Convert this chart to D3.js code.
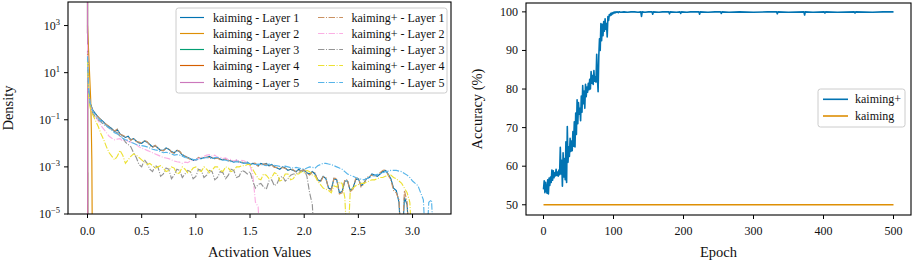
<!DOCTYPE html>
<html>
<head>
<meta charset="utf-8">
<style>
    body {
        margin: 0;
        background: #fff;
    }

    svg text { font-family: "Liberation Serif", "Times New Roman", serif; }
    .tick-label { font-size: 12px; fill: #111; }
    .axis-label { font-size: 14.5px; fill: #111; }
    .legend-text { font-size: 12px; fill: #111; }
</style>
</head>
<body>
<svg id="viz" width="913" height="262"></svg>

<script src="https://cdnjs.cloudflare.com/ajax/libs/d3/7.8.5/d3.min.js"></script>

<script>
    // ---- left panel: activation histograms (log10 of density, null = empty bin) ----
    // bins: 0, 0.01, then every 0.025 up to 3.2
    var activationBins = [0, 0.01].concat(d3.range(1, 129).map(function(k) { return +(k * 0.025).toFixed(3); }));

    var kaimingL1 = [1.9, 0.3,
        -0.3, -0.6, -0.75, -0.9, -1.0, -1.1, -1.22, -1.3, -1.38, -1.5, -1.42, -1.6, -1.68, -1.75, -1.7, -1.85, -1.8, -1.9, -1.98, -2.0,
        -1.9, -1.95, -2.05, -2.15, -2.1, -2.2, -2.3, -2.3, -2.2, -2.25, -2.35, -2.4, -2.3, -2.35, -2.5, -2.55, -2.6, -2.65, -2.72, -2.7,
        -2.62, -2.65, -2.6, -2.6, -2.55, -2.62, -2.65, -2.6, -2.68, -2.7, -2.65, -2.72, -2.75, -2.8, -2.72, -2.78, -2.82, -2.85, -2.8, -2.9,
        -2.85, -2.88, -2.95, -2.85, -2.9, -2.85, -2.95, -2.9, -3.0, -3.05, -3.1, -3.0, -3.05, -3.15, -3.1, -3.15, -3.2, -3.1, -3.2, -3.15,
        -3.25, -3.3, -3.2, -3.3, -3.55, -3.6, -3.4, -3.5, -3.9, -3.95, -3.5, -3.55, -4.1, -4.05, -3.6, -3.6, -4.0, -3.9, -3.55, -3.5,
        -3.8, -3.7, -3.5, -3.45, -3.3, -3.35, -3.4, -3.3, -3.2, -3.15, -3.3, -3.5, -3.9, -4.0, -4.5, null, -4.3, -4.6, null];

    var kaimingPlusL1 = [1.8, 0.25,
        -0.32, -0.62, -0.78, -0.88, -1.02, -1.12, -1.2, -1.28, -1.4, -1.48, -1.4, -1.62, -1.66, -1.72, -1.74, -1.88, -1.78, -1.92, -1.95, -1.98,
        -1.88, -1.92, -2.08, -2.18, -2.08, -2.2, -2.28, -2.32, -2.22, -2.22, -2.38, -2.42, -2.28, -2.33, -2.48, -2.52, -2.62, -2.68, -2.7, -2.72,
        -2.6, -2.62, -2.62, -2.58, -2.6, -2.6, -2.63, -2.62, -2.7, -2.68, -2.68, -2.75, -2.72, -2.78, -2.75, -2.8, -2.8, -2.83, -2.85, -2.92,
        -2.83, -2.85, -2.97, -2.88, -2.88, -2.88, -2.97, -2.92, -3.02, -3.02, -3.08, -3.02, -3.07, -3.12, -3.12, -3.12, -3.22, -3.12, -3.18, -3.13,
        -3.28, -3.35, -3.22, -3.25, -3.6, -3.65, -3.42, -3.45, -3.95, -4.0, -3.48, -3.5, -4.15, -4.1, -3.55, -3.55, -4.05, -3.95, -3.5, -3.45,
        -3.85, -3.75, -3.45, -3.4, -3.35, -3.38, -3.35, -3.25, -3.15, -3.12, -3.35, -3.55, -4.0, -4.1, -4.4, null, -4.0, -4.5, null];

    var kaimingPlusL2 = [2.2, 0.2,
        -0.4, -0.7, -0.88, -1.05, -1.25, -1.4, -1.55, -1.7, -1.78, -1.85, -1.82, -1.8, -1.9, -1.85, -1.92, -1.95, -2.0, -2.05, -2.15, -2.2,
        -2.25, -2.3, -2.35, -2.4, -2.45, -2.5, -2.55, -2.6, -2.62, -2.65, -2.7, -2.75, -2.78, -2.8, -2.85, -2.8, -2.82, -2.75, -2.72, -2.7,
        -2.65, -2.6, -2.55, -2.5, -2.48, -2.55, -2.5, -2.6, -2.58, -2.65, -2.62, -2.7, -2.68, -2.75, -2.7, -2.8, -2.72, -2.75, -2.85, -2.95,
        -3.3, -4.5, -4.7, null];

    var kaimingPlusL3 = [1.6, 0.2,
        -0.4, -0.75, -0.88, -1.0, -1.1, -1.2, -1.28, -1.35, -1.42, -1.5, -1.55, -1.7, -1.75, -1.95, -2.05, -2.15, -2.4, -2.6, -2.9, -3.0,
        -2.7, -2.85, -3.1, -3.2, -2.95, -3.0, -3.4, -3.3, -3.05, -3.1, -3.5, -3.35, -3.1, -3.15, -3.45, -3.3, -3.15, -3.2, -3.5, -3.4,
        -3.1, -3.15, -3.45, -3.35, -3.15, -3.2, -3.55, -3.45, -3.2, -3.25, -3.5, -3.35, -3.1, -3.15, -3.45, -3.4, -3.15, -3.2, -3.3, -3.2,
        -3.6, -3.9, -3.75, -3.7, -3.85, -3.95, -3.6, -3.55, -3.8, -3.7, -3.45, -3.4, -3.6, -3.5, -3.35, -3.3, -3.3, -3.25, -3.15, -3.1,
        -3.4, -4.1, -4.6, null];

    var kaimingPlusL4 = [1.5, 0.0,
        -0.5, -0.8, -1.05, -1.3, -1.6, -1.85, -2.15, -2.4, -2.55, -2.7, -2.55, -2.3, -2.5, -2.85, -2.7, -2.55, -2.45, -2.5, -2.6, -2.7,
        -2.8, -2.9, -2.85, -2.95, -3.05, -3.0, -2.95, -3.05, -3.2, -3.15, -3.0, -3.05, -3.3, -3.25, -3.0, -3.1, -3.25, -3.2, -3.05, -3.0,
        -3.15, -3.2, -3.0, -3.1, -3.25, -3.15, -3.0, -3.0, -3.15, -3.2, -3.0, -3.05, -3.2, -3.15, -3.0, -3.0, -2.95, -2.95, -2.9, -2.9,
        -3.1, -3.3, -3.5, -3.55, -3.3, -3.35, -3.5, -3.45, -3.25, -3.3, -3.6, -3.55, -3.3, -3.3, -3.55, -3.5, -3.3, -3.3, -3.2, -3.25,
        -3.15, -3.2, -3.35, -3.4, -3.6, -3.75, -3.9, -3.95, -4.0, -4.1, -3.8, -3.85, -3.65, -3.7, -4.3, null, -4.0, -3.9, -3.8, -3.75,
        -3.7, -3.7, -3.65, -3.6, -3.55, -3.55, -3.5, -3.45, -3.45, -3.4, -3.35, -3.35, -3.45, -3.5, -3.6, -3.7, -3.9, -4.1, -4.5, null];

    var kaimingPlusL5 = [1.7, 0.3,
        -0.3, -0.65, -0.8, -0.95, -1.05, -1.15, -1.25, -1.35, -1.45, -1.55, -1.6, -1.7, -1.78, -1.85, -1.88, -1.95, -2.0, -2.05, -2.08, -2.1,
        -2.12, -2.15, -2.2, -2.25, -2.28, -2.3, -2.35, -2.4, -2.38, -2.4, -2.45, -2.5, -2.48, -2.5, -2.55, -2.6, -2.62, -2.65, -2.68, -2.7,
        -2.68, -2.65, -2.62, -2.6, -2.63, -2.65, -2.6, -2.6, -2.65, -2.7, -2.72, -2.75, -2.78, -2.8, -2.78, -2.8, -2.82, -2.85, -2.83, -2.85,
        -2.88, -2.9, -2.88, -2.9, -2.92, -2.95, -2.88, -2.9, -2.93, -2.95, -2.98, -3.0, -2.97, -3.0, -3.03, -3.05, -3.02, -3.05, -3.08, -3.1,
        -3.05, -3.0, -3.02, -3.05, -2.95, -2.9, -2.85, -2.85, -2.88, -2.9, -2.95, -3.0, -3.05, -3.1, -3.2, -3.3, -3.35, -3.4, -3.45, -3.5,
        -3.52, -3.55, -3.5, -3.45, -3.4, -3.35, -3.32, -3.3, -3.25, -3.2, -3.18, -3.15, -3.15, -3.15, -3.18, -3.2, -3.28, -3.35, -3.45, -3.6,
        -3.7, -3.8, -4.1, -4.4, null, -4.5, -4.4, null];

    // the collapsed kaiming layers only live right at zero
    var kaimingL2Bins = [0, 0.03, 0.035, 0.04, 0.045];
    var kaimingL2 = [3.0, -0.2, -1.3, -2.7, null];
    var deadBins = [0, 0.002];
    var kaimingL3 = [5, null];
    var kaimingL4 = [5, null];
    var kaimingL5 = [5, null];

    var layerNames = ['Layer 1', 'Layer 2', 'Layer 3', 'Layer 4', 'Layer 5'];
    var kaimingColors = ['#0173b2', '#de8f05', '#029e73', '#d55e00', '#cc78bc'];
    var kaimingPlusColors = ['#ca9161', '#fbafe4', '#949494', '#ece133', '#56b4e9'];

    var densityTicks = [1e-5, 1e-3, 1e-1, 1e1, 1e3];
    var activationTicks = [0, 0.5, 1, 1.5, 2, 2.5, 3];

    // ---- right panel: accuracy per epoch ----
    var accEpochs = d3.range(0, 111).concat([115, 120, 125, 130, 135, 139, 140, 141, 145, 150,
        155, 156, 157, 165, 170, 179, 180, 181, 190, 195,
        196, 197, 205, 210, 222, 223, 224, 235, 245, 253,
        254, 255, 265, 280, 300, 320, 333, 334, 335, 350,
        372, 373, 374, 385, 401, 402, 403, 420, 444, 445,
        446, 470, 485, 500]);

    var kaimingPlusAcc = [
        54.0, 56.2, 53.1, 55.8, 54.0, 53.0, 56.5, 52.8, 56.9, 55.0,
        57.2, 55.8, 59.0, 56.4, 58.8, 57.0, 58.3, 57.5, 59.2, 57.6,
        58.5, 57.4, 59.0, 57.8, 64.9, 58.0, 61.5, 54.8, 63.5, 57.2,
        62.0, 56.5, 66.3, 55.8, 70.3, 61.0, 65.0, 62.5, 67.2, 63.8,
        66.5, 64.0, 69.0, 65.2, 71.5, 65.0, 73.8, 68.2, 77.2, 71.0,
        76.5, 73.5, 75.0, 71.8, 78.2, 74.0, 80.9, 76.2, 79.5, 75.0,
        81.2, 78.0, 80.5, 79.2, 81.5, 79.8, 82.5, 80.0, 84.5, 81.5,
        83.5, 81.2, 84.8, 82.0, 83.2, 81.8, 89.0, 83.0, 79.3, 88.5,
        93.0, 90.0, 97.0, 92.5, 96.8, 93.8, 97.5, 95.0, 98.2, 95.5,
        97.0, 93.5, 98.8, 97.8, 99.3, 99.0, 99.6, 99.2, 99.8, 99.5,
        99.9, 99.7, 100, 99.8, 100, 99.9, 100, 99.8, 100, 100,
        99.9,
        100, 99.9, 100, 100, 99.9, 100, 98.8, 100, 99.9, 100,
        100, 99.4, 100, 99.9, 100, 100, 99.5, 100, 99.9, 100,
        99.6, 100, 99.9, 100, 100, 99.4, 100, 99.9, 100, 100,
        99.6, 100, 99.9, 100, 99.9, 100, 100, 99.5, 100, 99.9,
        100, 99.2, 100, 99.9, 100, 99.7, 100, 99.9, 100, 99.7,
        100, 99.9, 100, 100];

    var kaimingEpochs = [0, 500];
    var kaimingAcc = [50, 50];

    var epochTicks = [0, 100, 200, 300, 400, 500];
    var accTicks = [50, 60, 70, 80, 90, 100];

    var svg = d3.select('#viz');

    // ================= left panel =================
    var L = { left: 68, right: 451, top: 2, bottom: 214 };
    var xAct = d3.scaleLinear().domain([-0.18, 3.355]).range([L.left, L.right]);
    var yDen = d3.scaleLog().domain([1e-5, 1e4]).range([L.bottom, L.top]);

    svg.append('clipPath').attr('id', 'clipL')
        .append('rect')
        .attr('x', L.left).attr('y', L.top)
        .attr('width', L.right - L.left).attr('height', L.bottom - L.top);

    function toPoints(bins, logs) {
        return logs.map(function(v, i) { return { x: bins[i], v: v }; });
    }

    var densityLine = d3.line()
        .x(function(d) { return xAct(d.x); })
        .y(function(d) { return d.v === null ? L.bottom + 40 : yDen(Math.pow(10, d.v)); });

    var kaimingSeries = [
        toPoints(activationBins, kaimingL1),
        toPoints(kaimingL2Bins, kaimingL2),
        toPoints(deadBins, kaimingL3),
        toPoints(deadBins, kaimingL4),
        toPoints(deadBins, kaimingL5)
    ];
    var kaimingPlusSeries = [
        toPoints(activationBins, kaimingPlusL1),
        toPoints(activationBins, kaimingPlusL2),
        toPoints(activationBins, kaimingPlusL3),
        toPoints(activationBins, kaimingPlusL4),
        toPoints(activationBins, kaimingPlusL5)
    ];

    var plotL = svg.append('g').attr('clip-path', 'url(#clipL)');

    kaimingSeries.forEach(function(s, i) {
        plotL.append('path')
            .attr('d', densityLine(s))
            .attr('fill', 'none')
            .attr('stroke', kaimingColors[i])
            .attr('stroke-width', 1.15);
    });
    kaimingPlusSeries.forEach(function(s, i) {
        plotL.append('path')
            .attr('d', densityLine(s))
            .attr('fill', 'none')
            .attr('stroke', kaimingPlusColors[i])
            .attr('stroke-width', 1.15)
            .attr('stroke-dasharray', '6.4,1.6,1,1.6');
    });

    // frame + ticks
    svg.append('rect')
        .attr('x', L.left).attr('y', L.top)
        .attr('width', L.right - L.left).attr('height', L.bottom - L.top)
        .attr('fill', 'none').attr('stroke', '#000').attr('stroke-width', 1.1);

    activationTicks.forEach(function(t) {
        var px = xAct(t);
        svg.append('line')
            .attr('x1', px).attr('x2', px)
            .attr('y1', L.bottom).attr('y2', L.bottom + 4)
            .attr('stroke', '#000').attr('stroke-width', 1);
        svg.append('text')
            .attr('class', 'tick-label')
            .attr('x', px).attr('y', L.bottom + 21)
            .attr('text-anchor', 'middle')
            .text(d3.format('.1f')(t));
    });

    densityTicks.forEach(function(t) {
        var py = yDen(t);
        svg.append('line')
            .attr('x1', L.left - 4).attr('x2', L.left)
            .attr('y1', py).attr('y2', py)
            .attr('stroke', '#000').attr('stroke-width', 1);
        var exp = Math.round(Math.log10(t));
        var txt = svg.append('text')
            .attr('class', 'tick-label')
            .attr('x', L.left - 8).attr('y', py + 4)
            .attr('text-anchor', 'end');
        txt.append('tspan').text('10');
        txt.append('tspan')
            .attr('dy', -5)
            .attr('font-size', '8.5px')
            .text(exp < 0 ? '\u2212' + (-exp) : exp);
    });

    svg.append('text')
        .attr('class', 'axis-label')
        .attr('x', (L.left + L.right) / 2).attr('y', 257)
        .attr('text-anchor', 'middle')
        .text('Activation Values');

    svg.append('text')
        .attr('class', 'axis-label')
        .attr('transform', 'translate(13,' + ((L.top + L.bottom) / 2) + ') rotate(-90)')
        .attr('text-anchor', 'middle')
        .text('Density');

    // legend, two columns
    var legL = svg.append('g');
    legL.append('rect')
        .attr('x', 176).attr('y', 8).attr('width', 271).attr('height', 85)
        .attr('rx', 2.5)
        .attr('fill', '#fff').attr('fill-opacity', 0.8)
        .attr('stroke', '#ccc').attr('stroke-width', 1);

    layerNames.forEach(function(name, i) {
        var ry = Math.round(16.7 + i * 16.25) + 0.5;
        legL.append('line')
            .attr('x1', 180).attr('x2', 204).attr('y1', ry).attr('y2', ry)
            .attr('stroke', kaimingColors[i]).attr('stroke-width', 1.15);
        legL.append('text')
            .attr('class', 'legend-text')
            .attr('x', 213).attr('y', ry + 4)
            .text('kaiming - ' + name);
        legL.append('line')
            .attr('x1', 318).attr('x2', 343).attr('y1', ry).attr('y2', ry)
            .attr('stroke', kaimingPlusColors[i]).attr('stroke-width', 1.15)
            .attr('stroke-dasharray', '6.4,1.6,1,1.6');
        legL.append('text')
            .attr('class', 'legend-text')
            .attr('x', 351.5).attr('y', ry + 4)
            .text('kaiming+ - ' + name);
    });

    // ================= right panel =================
    var R = { left: 526, right: 911, top: 3, bottom: 215 };
    var xEp = d3.scaleLinear().domain([-25, 525]).range([R.left, R.right]);
    var yAcc = d3.scaleLinear().domain([47.35, 102.3]).range([R.bottom, R.top]);

    var accLine = d3.line()
        .x(function(d) { return xEp(d[0]); })
        .y(function(d) { return yAcc(d[1]); });

    svg.append('path')
        .attr('d', accLine(d3.zip(accEpochs, kaimingPlusAcc)))
        .attr('fill', 'none')
        .attr('stroke', '#0173b2')
        .attr('stroke-width', 1.6)
        .attr('stroke-linejoin', 'round');

    svg.append('path')
        .attr('d', accLine(d3.zip(kaimingEpochs, kaimingAcc)))
        .attr('fill', 'none')
        .attr('stroke', '#de8f05')
        .attr('stroke-width', 1.6);

    svg.append('rect')
        .attr('x', R.left).attr('y', R.top)
        .attr('width', R.right - R.left).attr('height', R.bottom - R.top)
        .attr('fill', 'none').attr('stroke', '#000').attr('stroke-width', 1.1);

    epochTicks.forEach(function(t) {
        var px = xEp(t);
        svg.append('line')
            .attr('x1', px).attr('x2', px)
            .attr('y1', R.bottom).attr('y2', R.bottom + 4)
            .attr('stroke', '#000').attr('stroke-width', 1);
        svg.append('text')
            .attr('class', 'tick-label')
            .attr('x', px).attr('y', R.bottom + 20)
            .attr('text-anchor', 'middle')
            .text(t);
    });

    accTicks.forEach(function(t) {
        var py = yAcc(t);
        svg.append('line')
            .attr('x1', R.left - 4).attr('x2', R.left)
            .attr('y1', py).attr('y2', py)
            .attr('stroke', '#000').attr('stroke-width', 1);
        svg.append('text')
            .attr('class', 'tick-label')
            .attr('x', R.left - 8).attr('y', py + 4)
            .attr('text-anchor', 'end')
            .text(t);
    });

    svg.append('text')
        .attr('class', 'axis-label')
        .attr('x', (R.left + R.right) / 2).attr('y', 257)
        .attr('text-anchor', 'middle')
        .text('Epoch');

    svg.append('text')
        .attr('class', 'axis-label')
        .attr('transform', 'translate(482,' + ((R.top + R.bottom) / 2) + ') rotate(-90)')
        .attr('text-anchor', 'middle')
        .text('Accuracy (%)');

    var legR = svg.append('g');
    legR.append('rect')
        .attr('x', 818).attr('y', 89).attr('width', 87).attr('height', 38)
        .attr('rx', 2.5)
        .attr('fill', '#fff').attr('fill-opacity', 0.8)
        .attr('stroke', '#ccc').attr('stroke-width', 1);

    [['kaiming+', '#0173b2'], ['kaiming', '#de8f05']].forEach(function(e, i) {
        var ry = 99.3 + i * 16.7;
        legR.append('line')
            .attr('x1', 823).attr('x2', 848).attr('y1', ry).attr('y2', ry)
            .attr('stroke', e[1]).attr('stroke-width', 1.6);
        legR.append('text')
            .attr('class', 'legend-text')
            .attr('x', 855).attr('y', ry + 4)
            .text(e[0]);
    });
</script>
</body>
</html>
